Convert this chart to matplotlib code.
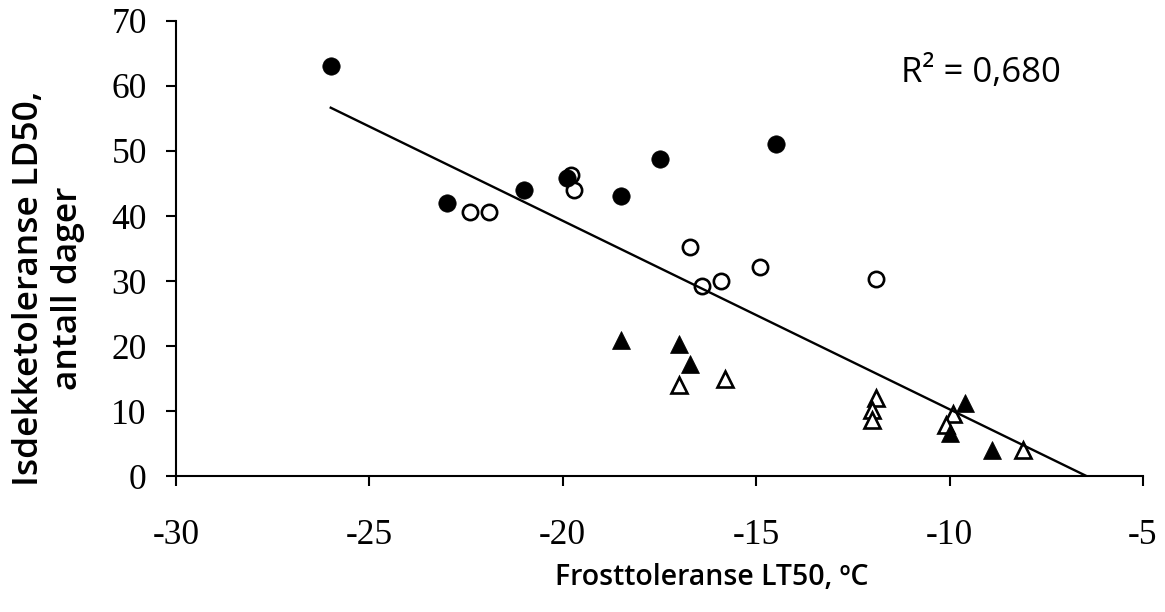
import numpy as np
import matplotlib
matplotlib.use("Agg")
import matplotlib.pyplot as plt

# filled circles
fc_x = [-26.0, -23.0, -21.0, -19.9, -18.5, -17.5, -14.5]
fc_y = [63.0, 42.0, 44.0, 45.8, 43.1, 48.7, 51.0]

# open circles
oc_x = [-22.4, -21.9, -19.8, -19.7, -16.7, -16.4, -15.9, -14.9, -11.9]
oc_y = [40.6, 40.6, 46.3, 44.0, 35.2, 29.3, 30.0, 32.1, 30.3]

# filled triangles
ft_x = [-18.5, -17.0, -16.7, -9.6, -10.0, -8.9]
ft_y = [21.0, 20.3, 17.3, 11.2, 6.6, 4.0]

# open triangles
ot_x = [-17.0, -15.8, -11.9, -12.0, -12.0, -9.9, -10.1, -8.1]
ot_y = [14.0, 15.0, 12.0, 10.2, 8.6, 9.6, 7.8, 4.0]

# linear trend
trend_slope = -2.90
trend_intercept = -18.74
r2_text = "R² = 0,680"

x_ticks = [-30, -25, -20, -15, -10, -5]
y_ticks = [0, 10, 20, 30, 40, 50, 60, 70]

xlabel = "Frosttoleranse LT50, ºC"
ylabel = "Isdekketoleranse LD50,\nantall dager"

sans = ["Open Sans", "DejaVu Sans"]
serif = ["Liberation Serif", "DejaVu Serif"]


def main():
    fig = plt.figure(figsize=(11.65, 6.12), dpi=100)
    ax = fig.add_axes([0.1511, 0.2222, 0.830, 0.7435])

    ax.plot(oc_x, oc_y, "o", ms=11.0, mfc="white", mec="black", mew=1.9, ls="none", zorder=3)
    ax.plot(fc_x, fc_y, "o", ms=12.5, mfc="black", mec="black", mew=0.5, ls="none", zorder=4)
    ax.plot(ot_x, ot_y, "^", ms=11.0, mfc="white", mec="black", mew=1.9, ls="none", zorder=3)
    ax.plot(ft_x, ft_y, "^", ms=12.5, mfc="black", mec="black", mew=0.5, ls="none", zorder=4)

    # trendline runs from the leftmost point down to where it meets the x axis
    all_x = np.array(fc_x + oc_x + ft_x + ot_x)
    x_end = -trend_intercept / trend_slope
    tx = np.linspace(all_x.min(), x_end, 50)
    ax.plot(tx, trend_intercept + trend_slope * tx, color="black", lw=1.7, zorder=5)

    ax.set_xlim(-30, -5)
    ax.set_ylim(0, 70)
    ax.set_xticks(x_ticks)
    ax.set_yticks(y_ticks)
    ax.set_xticklabels([str(v) for v in x_ticks], family=serif, fontsize=25.5)
    ax.set_yticklabels([str(v) for v in y_ticks], family=serif, fontsize=25.5)

    for s in ["top", "right"]:
        ax.spines[s].set_visible(False)
    for s in ["left", "bottom"]:
        ax.spines[s].set_linewidth(1.5)
    ax.tick_params(axis="both", direction="out", length=7, width=1.5)
    ax.tick_params(axis="x", pad=24)
    ax.tick_params(axis="y", pad=14)

    ax.text(-9.2, 62.0, r2_text, family=sans, fontsize=25, ha="center", va="center")

    ax.set_xlabel(xlabel, family=sans, fontsize=20.5, fontweight="semibold", va="center")
    ax.xaxis.set_label_coords(0.554, -0.224)
    ax.set_ylabel(ylabel, family=sans, fontsize=25.5, fontweight="semibold", va="center",
                  ha="center", multialignment="center", linespacing=1.2)
    ax.yaxis.set_label_coords(-0.132, 0.413)

    fig.savefig("out.png", dpi=100)


if __name__ == "__main__":
    main()
